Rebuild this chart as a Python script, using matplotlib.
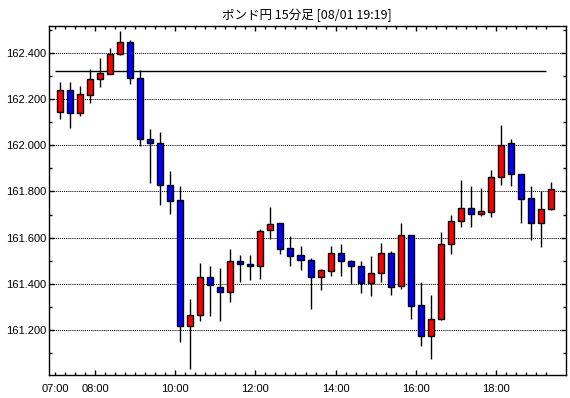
import numpy as np
import matplotlib.pyplot as plt
from matplotlib.ticker import MultipleLocator, FixedLocator

#15 minute candles from 07:00
opens = [162.144, 162.239, 162.139, 162.217, 162.287, 162.312, 162.396, 162.448, 162.291, 162.030,
         162.009, 161.830, 161.761, 161.216, 161.264, 161.430, 161.387, 161.364, 161.500, 161.487,
         161.478, 161.633, 161.661, 161.554, 161.523, 161.504, 161.429, 161.455, 161.535, 161.500,
         161.478, 161.403, 161.446, 161.535, 161.391, 161.609, 161.309, 161.174, 161.246, 161.572,
         161.672, 161.730, 161.703, 161.712, 161.865, 162.009, 161.878, 161.770, 161.664, 161.726]
highs = [162.274, 162.274, 162.258, 162.332, 162.378, 162.423, 162.497, 162.457, 162.328, 162.070,
         162.057, 161.888, 161.826, 161.332, 161.488, 161.475, 161.467, 161.549, 161.523, 161.523,
         161.635, 161.732, 161.661, 161.606, 161.562, 161.509, 161.464, 161.562, 161.574, 161.504,
         161.500, 161.519, 161.575, 161.542, 161.662, 161.609, 161.406, 161.349, 161.622, 161.697,
         161.849, 161.823, 161.814, 161.893, 162.090, 162.027, 161.878, 161.823, 161.803, 161.842]
lows = [162.113, 162.074, 162.126, 162.186, 162.255, 162.309, 162.393, 162.267, 161.999, 161.838,
        161.741, 161.701, 161.146, 161.030, 161.238, 161.259, 161.238, 161.321, 161.407, 161.414,
        161.419, 161.593, 161.528, 161.477, 161.458, 161.288, 161.371, 161.433, 161.433, 161.400,
        161.359, 161.346, 161.406, 161.351, 161.375, 161.245, 161.129, 161.074, 161.242, 161.529,
        161.646, 161.645, 161.694, 161.688, 161.828, 161.825, 161.664, 161.591, 161.557, 161.720]
closes = [162.239, 162.139, 162.222, 162.287, 162.313, 162.396, 162.448, 162.291, 162.029, 162.009,
          161.829, 161.759, 161.216, 161.265, 161.430, 161.394, 161.364, 161.500, 161.486, 161.477,
          161.630, 161.657, 161.551, 161.520, 161.503, 161.429, 161.457, 161.535, 161.499, 161.478,
          161.403, 161.448, 161.535, 161.386, 161.609, 161.303, 161.174, 161.248, 161.574, 161.674,
          161.730, 161.703, 161.714, 161.865, 162.004, 161.877, 161.768, 161.664, 161.726, 161.809]

#x ticks (in 15 minute steps from 07:00)
tick_pos = [0, 4, 12, 20, 28, 36, 44]
tick_labels = ["07:00", "08:00", "10:00", "12:00", "14:00", "16:00", "18:00"]
ref_price = 162.322

title = "ポンド円 15分足 [08/01 19:19]"

fig = plt.figure(figsize=(5.7, 3.98), dpi=100)
ax = fig.add_axes([0.0865, 0.0578, 0.906, 0.877])

o = np.array(opens)
c = np.array(closes)
x = np.arange(len(o)) + 0.5
colors = np.where(c >= o, "#ff0000", "#0000ff")

#price grid
for p in np.arange(161.2, 162.41, 0.2):
    ax.axhline(p, color="black", lw=0.75, ls=(0, (1, 1)), zorder=1)

ax.hlines(ref_price, 0, 49, color="black", lw=1, zorder=2)

#wicks and bodies
ax.vlines(x, lows, highs, color="black", lw=1, zorder=3)
ax.bar(x, np.abs(c - o), bottom=np.minimum(o, c), width=0.6,
       color=colors, edgecolor="black", linewidth=1, zorder=4)

ax.set_xlim(-0.57, 50.97)
ax.set_ylim(161.003, 162.519)

ax.xaxis.set_major_locator(FixedLocator(tick_pos))
ax.set_xticklabels(tick_labels)
ax.xaxis.set_minor_locator(FixedLocator(range(0, 50)))
ax.yaxis.set_major_locator(MultipleLocator(0.2))
ax.yaxis.set_minor_locator(MultipleLocator(0.1))
ax.yaxis.set_major_formatter(plt.FormatStrFormatter("%.3f"))

ax.tick_params(which="both", direction="in", top=True, right=True,
               width=1, color="black", labelsize=8)
ax.tick_params(which="major", length=3.6)
ax.tick_params(which="minor", length=2.2)
ax.tick_params(axis="x", pad=6.5)
ax.tick_params(axis="y", pad=2)
for t in ax.get_xticklabels() + ax.get_yticklabels():
    t.set_fontfamily("Liberation Sans")
ax.xaxis.get_major_ticks()[0].tick1line.set_markersize(2.2)
ax.xaxis.get_major_ticks()[0].tick2line.set_markersize(2.2)

for s in ax.spines.values():
    s.set_linewidth(1)

fig.text(0.539, 0.962, title, ha="center", va="center", fontsize=9,
         family=["Noto Sans CJK JP", "DejaVu Sans"])

plt.savefig("out.png", dpi=100)
plt.close()
